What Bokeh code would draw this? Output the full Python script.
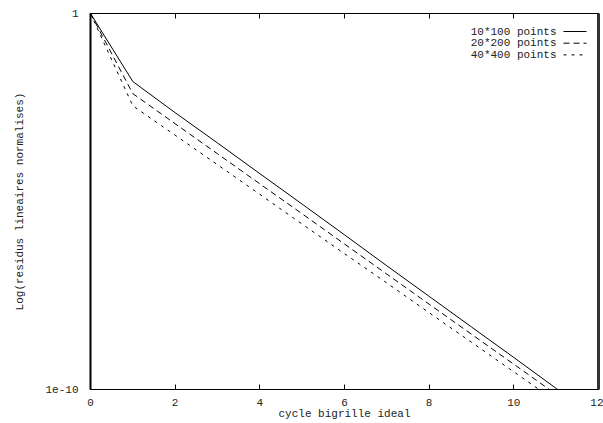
from bokeh.plotting import figure
from bokeh.models import Range1d, FixedTicker, LinearAxis, LogAxis, CustomJSTickFormatter, Label, Arrow
from bokeh.embed import file_html
from bokeh.resources import INLINE

# ---- data ----
cycles = [0, 1, 2, 3, 4, 5, 6, 7, 8, 9, 10, 11, 12]
res_10x100 = [1.0, 1.55e-2, 2.3e-3, 3.6e-4, 5.5e-5, 8.5e-6, 1.3e-6, 1.95e-7,
              3.0e-8, 4.6e-9, 7.1e-10, 1.07e-10, 1.6e-11]
res_20x200 = [1.0, 7.4e-3, 1.17e-3, 1.86e-4, 2.95e-5, 4.7e-6, 7.4e-7, 1.17e-7,
              1.86e-8, 2.95e-9, 4.7e-10, 7.4e-11, 1.17e-11]
res_40x400 = [1.0, 3.5e-3, 5.8e-4, 9.5e-5, 1.55e-5, 2.5e-6, 4.1e-7, 6.8e-8,
              1.1e-8, 1.8e-9, 2.95e-10, 4.8e-11, 7.8e-12]
series_labels = ["10*100 points", "20*200 points", "40*400 points"]
x_ticks = [0, 2, 4, 6, 8, 10, 12]
y_ticks = [1e-10, 1]
y_tick_labels = ["1e-10", "1"]
x_title = "cycle bigrille ideal"
y_title = "Log(residus lineaires normalises)"

# ---- styles ----
FONT = "Liberation Mono"
FS = "11px"
dashes = ["solid", "6 4", "3 5"]

p = figure(width=603, height=423, x_range=Range1d(0, 12), y_range=Range1d(1e-10, 1),
           y_axis_type="log", output_backend="svg", toolbar_location=None,
           min_border_left=90, min_border_right=5, min_border_top=13, min_border_bottom=34,
           x_axis_location=None, y_axis_location=None)
p.grid.visible = False
p.outline_line_color = "black"
p.outline_line_width = 1
p.background_fill_color = "white"
p.border_fill_color = "white"

yfmt = CustomJSTickFormatter(args=dict(vals=y_ticks, labs=y_tick_labels), code="""
let best = 0, bd = Infinity;
for (let i = 0; i < vals.length; i++) {
  const d = Math.abs(Math.log10(tick) - Math.log10(vals[i]));
  if (d < bd) { bd = d; best = i; }
}
return labs[best];
""")

def style(ax, labels=True):
    ax.axis_line_color = "black"
    ax.major_tick_in = 5
    ax.major_tick_out = 0
    ax.minor_tick_in = 0
    ax.minor_tick_out = 0
    ax.major_tick_line_color = "black"
    ax.major_label_text_font = FONT
    ax.major_label_text_font_size = FS
    ax.major_label_text_color = "#222222"
    ax.axis_label_text_font = FONT
    ax.axis_label_text_font_size = FS
    ax.axis_label_text_font_style = "normal"
    ax.axis_label_text_color = "#222222"
    if not labels:
        ax.major_label_text_font_size = "0px"
        ax.major_label_text_color = None

xb = LinearAxis(ticker=FixedTicker(ticks=x_ticks), axis_label=x_title)
style(xb)
xb.major_label_standoff = 9
xb.axis_label_standoff = -1
p.add_layout(xb, "below")

xt = LinearAxis(ticker=FixedTicker(ticks=x_ticks))
style(xt, labels=False)
xt.major_label_standoff = 0
p.add_layout(xt, "above")

yl = LogAxis(ticker=FixedTicker(ticks=y_ticks), formatter=yfmt, axis_label=y_title)
style(yl)
yl.axis_line_width = 2
yl.major_label_standoff = 12
yl.axis_label_standoff = 16
p.add_layout(yl, "left")

yr = LogAxis(ticker=FixedTicker(ticks=y_ticks))
style(yr, labels=False)
yr.axis_line_width = 3
yr.axis_line_color = "#333333"
yr.major_label_standoff = 0
p.add_layout(yr, "right")

series = [res_10x100, res_20x200, res_40x400]
for ys, d in zip(series, dashes):
    p.line(cycles, ys, line_color="black", line_width=1, line_dash=d)

# ---- gnuplot-style key (text then sample) ----
y0 = 13.0
px_per_x = 508.0 / 12.0
def dx(px):
    return (px - 90.0) / px_per_x
def dy(py):
    return 10 ** (-(py - y0) / 37.6)

rows_py = [31.0, 42.7, 54.4]
for lab, d, py in zip(series_labels, dashes, rows_py):
    p.add_layout(Label(x=dx(556), y=dy(py), text=lab, text_align="right",
                       text_baseline="middle", text_font=FONT, text_font_size=FS,
                       text_color="#222222"))
    p.add_layout(Arrow(end=None, x_start=dx(563), y_start=dy(py), x_end=dx(586), y_end=dy(py),
                       line_color="black", line_width=1, line_dash=d))

open("out.html", "w").write(file_html(p, INLINE))
